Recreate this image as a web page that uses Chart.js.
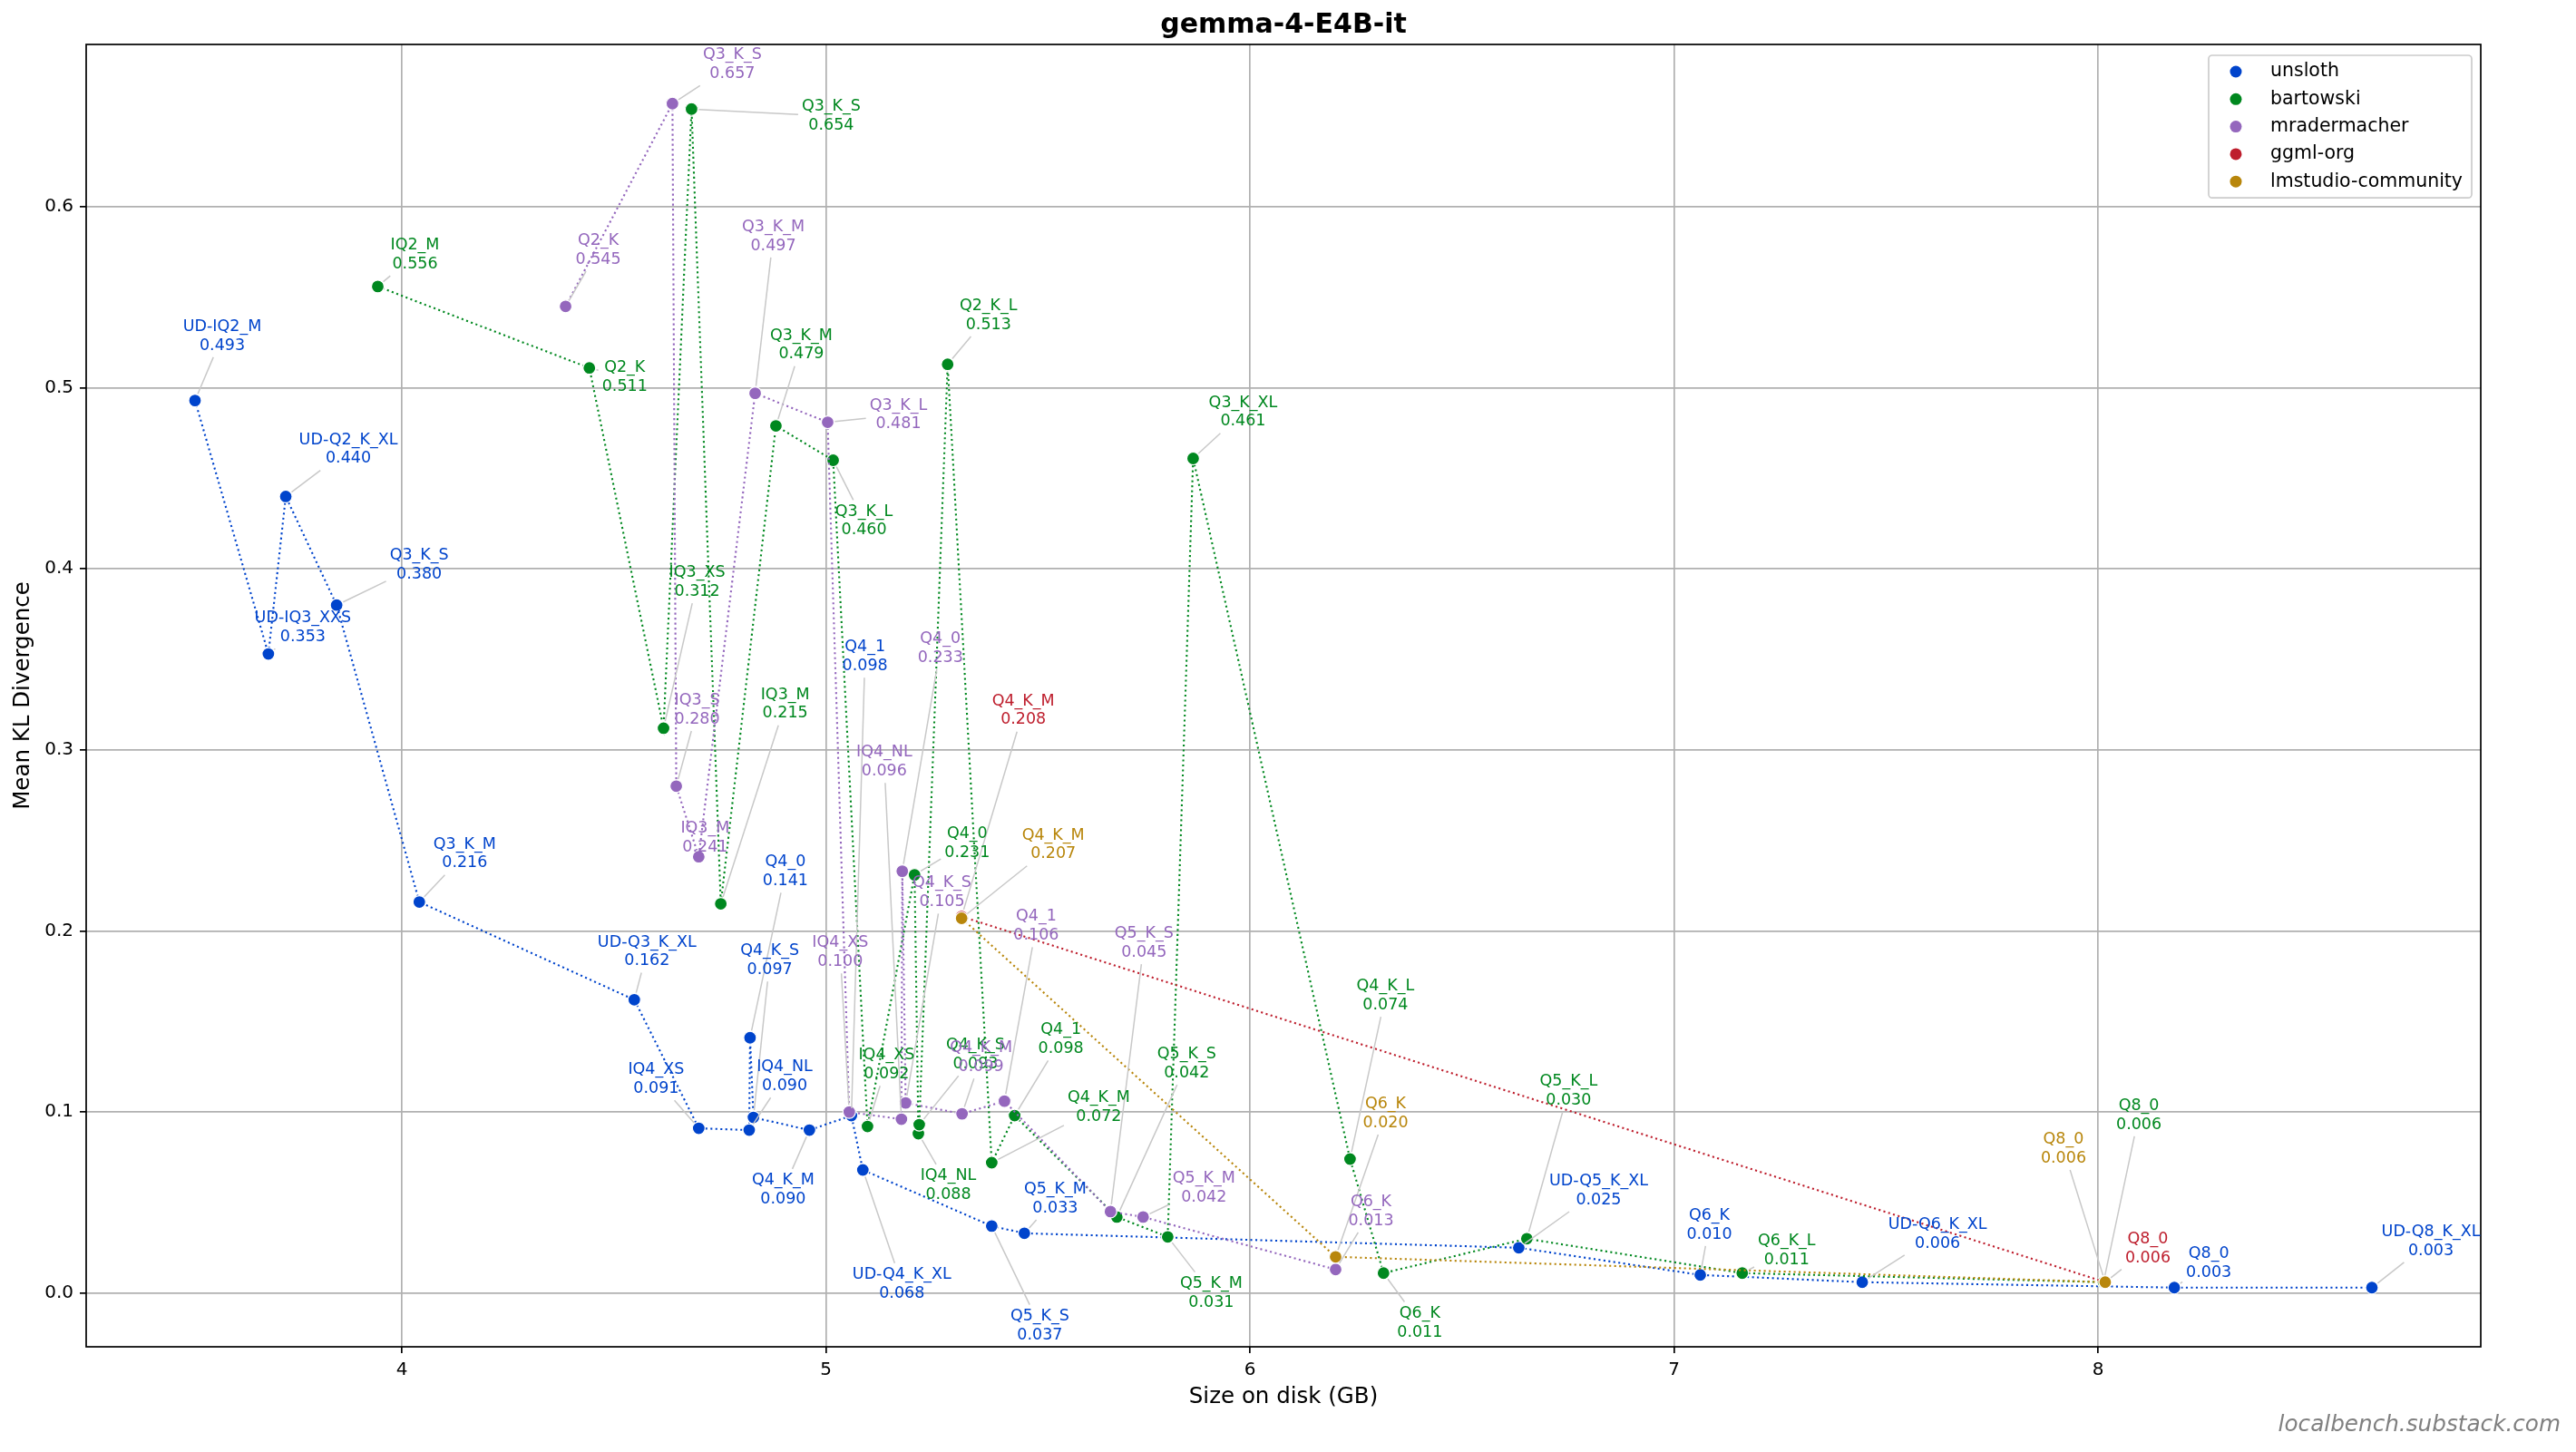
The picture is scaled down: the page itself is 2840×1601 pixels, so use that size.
<!DOCTYPE html>
<html>
<head>
<meta charset="utf-8">
<title>gemma-4-E4B-it</title>
<script src="https://cdn.jsdelivr.net/npm/chart.js@4.4.1/dist/chart.umd.min.js"></script>
<style>
  html, body { margin: 0; padding: 0; background: #fff; }
  canvas { display: block; }
</style>
</head>
<body>
<canvas id="chart" width="2840" height="1601"></canvas>
<script>
var FONT = '"DejaVu Sans", "Liberation Sans", sans-serif';

// ---- data (size on disk in GB, mean KL divergence) ----
var unslothNames = ['UD-IQ2_M', 'UD-IQ3_XXS', 'UD-Q2_K_XL', 'Q3_K_S', 'Q3_K_M', 'UD-Q3_K_XL',
  'IQ4_XS', 'IQ4_NL', 'Q4_0', 'Q4_K_S', 'Q4_K_M', 'Q4_1', 'UD-Q4_K_XL', 'Q5_K_S', 'Q5_K_M',
  'UD-Q5_K_XL', 'Q6_K', 'UD-Q6_K_XL', 'Q8_0', 'UD-Q8_K_XL'];
var unslothSize = [3.512, 3.685, 3.726, 3.846, 4.041, 4.548, 4.700, 4.819, 4.821, 4.829, 4.961,
  5.060, 5.087, 5.391, 5.468, 6.634, 7.062, 7.444, 8.180, 8.646];
var unslothKld = [0.493, 0.353, 0.440, 0.380, 0.216, 0.162, 0.091, 0.090, 0.141, 0.097, 0.090,
  0.098, 0.068, 0.037, 0.033, 0.025, 0.010, 0.006, 0.003, 0.003];

var bartowskiNames = ['IQ2_M', 'Q2_K', 'IQ3_XS', 'Q3_K_S', 'IQ3_M', 'Q3_K_M', 'Q3_K_L', 'IQ4_XS',
  'Q4_0', 'IQ4_NL', 'Q4_K_S', 'Q2_K_L', 'Q4_K_M', 'Q4_1', 'Q5_K_S', 'Q5_K_M', 'Q3_K_XL', 'Q4_K_L',
  'Q6_K', 'Q5_K_L', 'Q6_K_L', 'Q8_0'];
var bartowskiSize = [3.943, 4.442, 4.617, 4.683, 4.752, 4.882, 5.017, 5.098, 5.209, 5.218, 5.220,
  5.287, 5.391, 5.445, 5.686, 5.806, 5.866, 6.236, 6.315, 6.653, 7.161, 8.013];
var bartowskiKld = [0.556, 0.511, 0.312, 0.654, 0.215, 0.479, 0.460, 0.092, 0.231, 0.088, 0.093,
  0.513, 0.072, 0.098, 0.042, 0.031, 0.461, 0.074, 0.011, 0.030, 0.011, 0.006];

var mraderNames = ['Q2_K', 'Q3_K_S', 'IQ3_S', 'IQ3_M', 'Q3_K_M', 'Q3_K_L', 'IQ4_XS', 'IQ4_NL',
  'Q4_0', 'Q4_K_S', 'Q4_K_M', 'Q4_1', 'Q5_K_S', 'Q5_K_M', 'Q6_K'];
var mraderSize = [4.386, 4.638, 4.647, 4.700, 4.833, 5.004, 5.055, 5.178, 5.180, 5.188, 5.321,
  5.421, 5.671, 5.748, 6.202];
var mraderKld = [0.545, 0.657, 0.280, 0.241, 0.497, 0.481, 0.100, 0.096, 0.233, 0.105, 0.099,
  0.106, 0.045, 0.042, 0.013];

var ggmlNames = ['Q4_K_M', 'Q8_0'];
var ggmlSize = [5.320, 8.017];
var ggmlKld = [0.208, 0.006];

var lmstudioNames = ['Q4_K_M', 'Q6_K', 'Q8_0'];
var lmstudioSize = [5.320, 6.202, 8.017];
var lmstudioKld = [0.207, 0.020, 0.006];

var xTicks = [4, 5, 6, 7, 8];
var yTicks = [0, 0.1, 0.2, 0.3, 0.4, 0.5, 0.6];

// ---- where each text label sits, as a pixel offset from its point ----
var unslothLabelOffset = [[30, -71], [38, -29], [69, -52], [91, -44], [50, -53], [14, -53],
  [-47, -54], [39, -59], [39, -183], [18, -173], [-29, 66], [15, -506], [43, 126], [53, 110],
  [34, -38], [88, -63], [10, -55], [83, -53], [38, -27], [65, -51]];
var bartowskiLabelOffset = [[41, -35], [39, 10], [37, -161], [154, 8], [71, -220], [28, -89],
  [34, 67], [21, -68], [58, -35], [33, 57], [62, -77], [45, -54], [118, -61], [51, -84],
  [77, -169], [48, 62], [55, -51], [39, -180], [40, 55], [46, -163], [49, -25], [39, -184]];
var mraderLabelOffset = [[36, -62], [66, -43], [23, -84], [7, -21], [20, -173], [78, -8],
  [-10, -176], [-19, -394], [42, -246], [40, -232], [21, -62], [35, -193], [37, -296],
  [67, -32], [39, -64]];
var ggmlLabelOffset = [[68, -227], [47, -37]];
var lmstudioLabelOffset = [[101, -81], [55, -158], [-46, -147]];

var SERIES = [
  {label: 'unsloth', color: '#0044cc', names: unslothNames, size: unslothSize, kld: unslothKld, offsets: unslothLabelOffset},
  {label: 'bartowski', color: '#00881f', names: bartowskiNames, size: bartowskiSize, kld: bartowskiKld, offsets: bartowskiLabelOffset},
  {label: 'mradermacher', color: '#9467bd', names: mraderNames, size: mraderSize, kld: mraderKld, offsets: mraderLabelOffset},
  {label: 'ggml-org', color: '#be1e2d', names: ggmlNames, size: ggmlSize, kld: ggmlKld, offsets: ggmlLabelOffset},
  {label: 'lmstudio-community', color: '#b8860b', names: lmstudioNames, size: lmstudioSize, kld: lmstudioKld, offsets: lmstudioLabelOffset}
];

// axis limits with matplotlib-like 5% margins
var allSize = [].concat.apply([], SERIES.map(s => s.size));
var allKld = [].concat.apply([], SERIES.map(s => s.kld));
var xMin = Math.min.apply(null, allSize), xMax = Math.max.apply(null, allSize);
var yMin = Math.min.apply(null, allKld), yMax = Math.max.apply(null, allKld);
var xPad = (xMax - xMin) * 0.05, yPad = (yMax - yMin) * 0.05;

var datasets = SERIES.map(function(s, i) {
  return {
    label: s.label,
    data: s.size.map((x, j) => ({x: x, y: s.kld[j]})),
    showLine: true,
    borderColor: s.color,
    borderWidth: 2.1,
    borderDash: [2.1, 3.4],
    pointRadius: 7,
    pointHoverRadius: 7,
    pointBackgroundColor: s.color,
    pointBorderColor: '#ffffff',
    pointBorderWidth: 1.2,
    order: SERIES.length - i
  };
});

function clipToBox(px, py, cx, cy, hw, hh) {
  // point on segment (px,py)->(cx,cy) where it enters the box centred at (cx,cy)
  var dx = px - cx, dy = py - cy;
  var t = Math.max(Math.abs(dx) / hw, Math.abs(dy) / hh);
  if (t <= 1) return null;
  return {x: cx + dx / t, y: cy + dy / t};
}

var decor = {
  id: 'decor',
  beforeDatasetsDraw: function(chart) {
    var ctx = chart.ctx, a = chart.chartArea;
    ctx.save();
    ctx.strokeStyle = '#000';
    ctx.lineWidth = 1.7;
    ctx.strokeRect(a.left, a.top, a.right - a.left, a.bottom - a.top);
    ctx.restore();
  },
  afterDatasetsDraw: function(chart) {
    var ctx = chart.ctx, a = chart.chartArea;
    var fs = 17.5, lh = 20.7;
    ctx.save();
    ctx.font = fs + 'px ' + FONT;
    ctx.textAlign = 'center';
    ctx.textBaseline = 'middle';

    var items = [];
    SERIES.forEach(function(s, d) {
      var meta = chart.getDatasetMeta(d);
      meta.data.forEach(function(el, i) {
        var name = s.names[i], val = s.kld[i].toFixed(3);
        var w = Math.max(ctx.measureText(name).width, ctx.measureText(val).width);
        items.push({px: el.x, py: el.y, cx: el.x + s.offsets[i][0], cy: el.y + s.offsets[i][1],
          name: name, val: val, w: w, color: s.color});
      });
    });

    // leader lines
    ctx.strokeStyle = '#c8c8c8';
    ctx.lineWidth = 1.5;
    items.forEach(function(it) {
      var e = clipToBox(it.px, it.py, it.cx, it.cy, it.w / 2 + 4, lh + 2.5);
      if (!e) return;
      var dx = e.x - it.px, dy = e.y - it.py, len = Math.sqrt(dx * dx + dy * dy);
      if (len <= 9) return;
      ctx.beginPath();
      ctx.moveTo(it.px + dx / len * 8, it.py + dy / len * 8);
      ctx.lineTo(e.x, e.y);
      ctx.stroke();
    });

    // label texts
    items.forEach(function(it) {
      ctx.fillStyle = it.color;
      ctx.fillText(it.name, it.cx, it.cy - lh / 2);
      ctx.fillText(it.val, it.cx, it.cy + lh / 2);
    });

    // legend box, top right inside the axes
    ctx.font = '20.5px ' + FONT;
    ctx.textAlign = 'left';
    var maxW = Math.max.apply(null, SERIES.map(s => ctx.measureText(s.label).width));
    var rowH = 30.3;
    var bw = 68 + maxW + 10, bh = 36 + rowH * (SERIES.length - 1);
    var bx = a.right - 10 - bw, by = a.top + 12;
    ctx.beginPath();
    ctx.roundRect(bx, by, bw, bh, 4);
    ctx.fillStyle = 'rgba(255,255,255,0.8)';
    ctx.fill();
    ctx.strokeStyle = '#cccccc';
    ctx.lineWidth = 1.7;
    ctx.stroke();
    SERIES.forEach(function(s, i) {
      var y = by + 18 + i * rowH;
      ctx.beginPath();
      ctx.arc(bx + 30, y, 6.5, 0, Math.PI * 2);
      ctx.fillStyle = s.color;
      ctx.fill();
      ctx.fillStyle = '#000';
      ctx.fillText(s.label, bx + 68, y);
    });

    // watermark
    ctx.font = 'italic 24.7px ' + FONT;
    ctx.textAlign = 'right';
    ctx.fillStyle = '#808080';
    ctx.fillText('localbench.substack.com', chart.width - 17, chart.height - 29);
    ctx.restore();
  }
};

var gridOpts = {color: '#b0b0b0', lineWidth: 1.7, tickColor: '#000', tickLength: 7, tickWidth: 1.7};

new Chart(document.getElementById('chart'), {
  type: 'scatter',
  data: {datasets: datasets},
  options: {
    responsive: false,
    animation: false,
    devicePixelRatio: 1,
    events: [],
    layout: {padding: {left: 0, right: 105, top: 0, bottom: 0}},
    plugins: {
      legend: {display: false},
      tooltip: {enabled: false},
      title: {
        display: true,
        text: 'gemma-4-E4B-it',
        fullSize: false,
        color: '#000',
        font: {family: FONT, size: 30, weight: 'bold'},
        padding: {top: 10, bottom: 3}
      }
    },
    scales: {
      x: {
        type: 'linear',
        min: xMin - xPad,
        max: xMax + xPad,
        afterBuildTicks: function(scale) { scale.ticks = xTicks.map(v => ({value: v})); },
        afterFit: function(scale) { scale.height = 116; },
        grid: gridOpts,
        border: {display: false},
        ticks: {
          color: '#000', font: {family: FONT, size: 20}, padding: 7,
          maxRotation: 0, autoSkip: false,
          callback: v => String(v)
        },
        title: {
          display: true, text: 'Size on disk (GB)', color: '#000',
          font: {family: FONT, size: 24.5}, padding: {top: 0, bottom: 46}
        }
      },
      y: {
        type: 'linear',
        min: yMin - yPad,
        max: yMax + yPad,
        afterBuildTicks: function(scale) { scale.ticks = yTicks.map(v => ({value: v})); },
        afterFit: function(scale) { scale.width = 95; },
        grid: gridOpts,
        border: {display: false},
        ticks: {
          color: '#000', font: {family: FONT, size: 20}, padding: 7,
          autoSkip: false,
          callback: v => v.toFixed(1)
        },
        title: {
          display: true, text: 'Mean KL Divergence', color: '#000',
          font: {family: FONT, size: 24.5}, padding: {top: 11, bottom: 0}
        }
      }
    }
  },
  plugins: [decor]
});
</script>
</body>
</html>
